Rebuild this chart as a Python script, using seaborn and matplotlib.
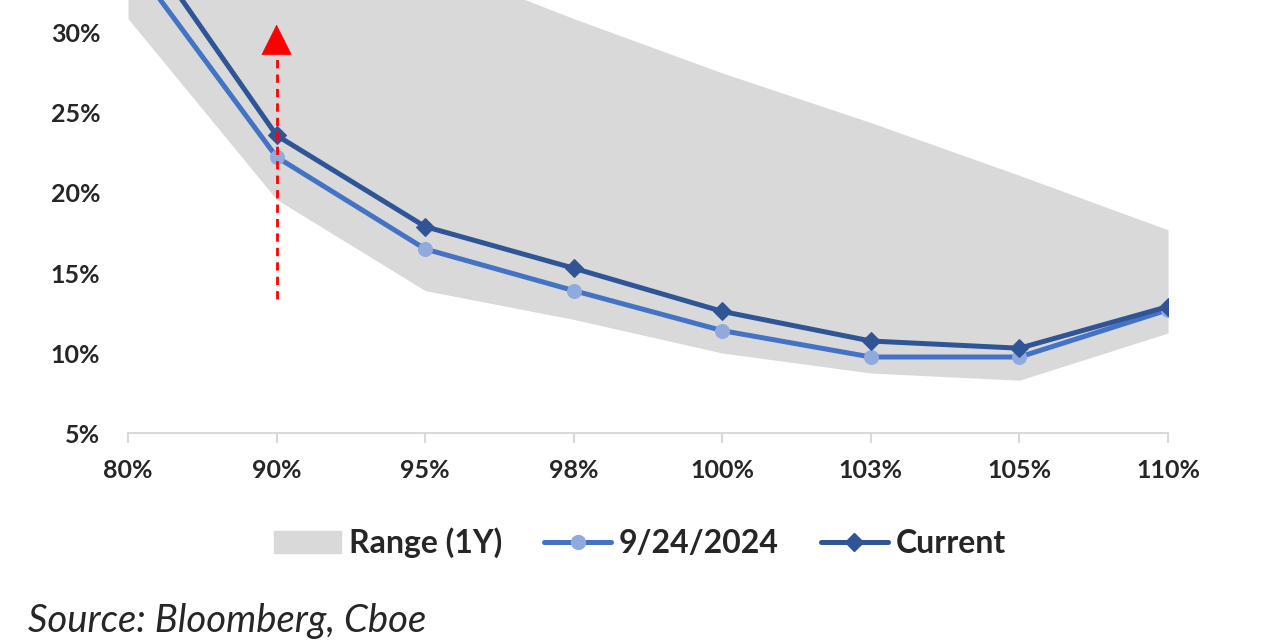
import matplotlib
matplotlib.use("Agg")
import matplotlib.pyplot as plt
import matplotlib.patches as mpatches
from matplotlib.lines import Line2D
import numpy as np
import pandas as pd
import seaborn as sns

# Data (implied vol by moneyness)
strikes = ["80%", "90%", "95%", "98%", "100%", "103%", "105%", "110%"]
range_low = [30.9, 19.6, 13.9, 12.1, 10.0, 8.75, 8.3, 11.25]
range_high = [45.0, 40.0, 34.5, 30.9, 27.5, 24.4, 21.1, 17.7]
prev_vol = [34.8, 22.25, 16.5, 13.9, 11.4, 9.75, 9.75, 12.7]
current_vol = [36.9, 23.6, 17.9, 15.3, 12.6, 10.75, 10.3, 12.9]
arrow_from = 13.4
arrow_to = 30.7

sns.set_theme(style="white")
plt.rcParams["font.family"] = ["Lato", "DejaVu Sans"]

band_col = "#d9d9d9"
light_col = "#4472c4"
light_marker = "#8faadc"
dark_col = "#2f5597"
text_col = "#262626"

pos = np.arange(len(strikes))
df = pd.DataFrame({
    "pos": np.concatenate([pos, pos]),
    "vol": prev_vol + current_vol,
    "series": ["9/24/2024"] * len(pos) + ["Current"] * len(pos),
})

fig = plt.figure(figsize=(12.8, 6.4), dpi=100)
ax = fig.add_axes([0.1, 0.3234, 0.8125, 0.6766])

ax.fill_between(pos, range_low, range_high, color=band_col, lw=0, zorder=1)

sns.lineplot(data=df[df.series == "9/24/2024"], x="pos", y="vol", ax=ax,
             color=light_col, lw=3.6, marker="o", markersize=10,
             markerfacecolor=light_marker, markeredgecolor=light_marker,
             legend=False, zorder=3)
sns.lineplot(data=df[df.series == "Current"], x="pos", y="vol", ax=ax,
             color=dark_col, lw=3.6, marker="D", markersize=9,
             markerfacecolor=dark_col, markeredgecolor=dark_col,
             legend=False, zorder=4)

# red dashed arrow at 90%
ax.plot([1, 1], [arrow_from, arrow_to - 1.6], color="#ff0000", lw=2,
        ls=(0, (3, 2.2)), zorder=5)
ax.annotate("", xy=(1, arrow_to), xytext=(1, arrow_to - 1.8),
            arrowprops=dict(arrowstyle="-|>,head_length=2.1,head_width=1.05",
                            mutation_scale=10, color="#ff0000", lw=0.5),
            zorder=6)

ax.set_xlim(0, len(strikes) - 1)
ax.set_ylim(5, 32.06)
ax.set_xticks(pos)
ax.set_xticklabels(strikes, fontweight="bold")
ax.set_yticks([5, 10, 15, 20, 25, 30])
ax.set_yticklabels([f"{v}%" for v in [5, 10, 15, 20, 25, 30]], fontweight="bold")
ax.set_xlabel("")
ax.set_ylabel("")

for s in ["top", "right", "left"]:
    ax.spines[s].set_visible(False)
ax.spines["bottom"].set_color(band_col)
ax.spines["bottom"].set_linewidth(1.5)
ax.tick_params(axis="x", bottom=True, length=7, width=1.5, color=band_col,
               labelsize=18, labelcolor=text_col, pad=12)
ax.tick_params(axis="y", left=False, labelsize=18, labelcolor=text_col, pad=14)

handles = [
    mpatches.Patch(color=band_col, label="Range (1Y)"),
    Line2D([], [], color=light_col, lw=3.6, marker="o", markersize=10,
           markerfacecolor=light_marker, markeredgecolor=light_marker,
           label="9/24/2024"),
    Line2D([], [], color=dark_col, lw=3.6, marker="D", markersize=9,
           label="Current"),
]
fig.legend(handles=handles, loc="center", bbox_to_anchor=(0.5, 0.152), ncol=3,
           frameon=False, prop=dict(size=23, weight="bold"), handlelength=2.1,
           handletextpad=0.25, columnspacing=1.3, labelcolor=text_col)

fig.text(0.022, 0.012, "Source: Bloomberg, Cboe", style="italic", fontsize=27.5,
         color=text_col)

fig.savefig("out.png", dpi=100)
